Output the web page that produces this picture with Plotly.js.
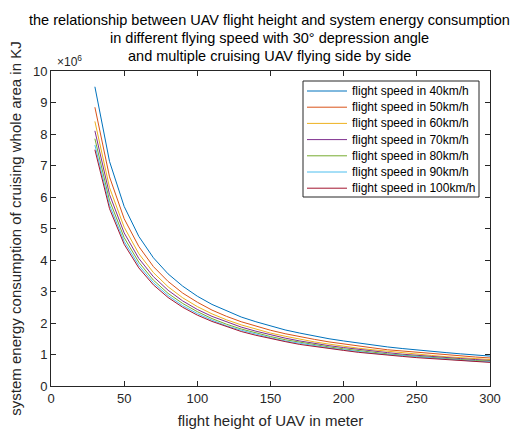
<!DOCTYPE html>
<html>
<head>
<meta charset="utf-8">
<script src="https://cdn.plot.ly/plotly-3.0.1.min.js"></script>
<style>html,body{margin:0;padding:0;background:#fff;}#chart{width:520px;height:433px;}</style>
</head>
<body>
<div id="chart"></div>
<script>
// flight height (m)
var heights = [30,40,50,60,70,80,90,100,110,120,130,140,150,160,170,180,190,200,210,220,230,240,250,260,270,280,290,300];
// energy consumption (x10^6 KJ)
var speed40  = [9.50,7.13,5.70,4.75,4.07,3.56,3.17,2.85,2.59,2.38,2.19,2.04,1.90,1.78,1.68,1.58,1.50,1.43,1.36,1.30,1.24,1.19,1.14,1.10,1.06,1.02,0.98,0.95];
var speed50  = [8.85,6.64,5.31,4.43,3.79,3.32,2.95,2.66,2.41,2.21,2.04,1.90,1.77,1.66,1.56,1.48,1.40,1.33,1.26,1.21,1.15,1.11,1.06,1.02,0.98,0.95,0.92,0.89];
var speed60  = [8.40,6.30,5.04,4.20,3.60,3.15,2.80,2.52,2.29,2.10,1.94,1.80,1.68,1.58,1.48,1.40,1.33,1.26,1.20,1.15,1.10,1.05,1.01,0.97,0.93,0.90,0.87,0.84];
var speed70  = [8.10,6.08,4.86,4.05,3.47,3.04,2.70,2.43,2.21,2.03,1.87,1.74,1.62,1.52,1.43,1.35,1.28,1.22,1.16,1.10,1.06,1.01,0.97,0.93,0.90,0.87,0.84,0.81];
var speed80  = [7.85,5.89,4.71,3.93,3.36,2.94,2.62,2.36,2.14,1.96,1.81,1.68,1.57,1.47,1.39,1.31,1.24,1.18,1.12,1.07,1.02,0.98,0.94,0.91,0.87,0.84,0.81,0.79];
var speed90  = [7.65,5.74,4.59,3.83,3.28,2.87,2.55,2.30,2.09,1.91,1.77,1.64,1.53,1.43,1.35,1.28,1.21,1.15,1.09,1.04,1.00,0.96,0.92,0.88,0.85,0.82,0.79,0.77];
var speed100 = [7.50,5.63,4.50,3.75,3.21,2.81,2.50,2.25,2.05,1.88,1.73,1.61,1.50,1.41,1.32,1.25,1.18,1.13,1.07,1.02,0.98,0.94,0.90,0.87,0.83,0.80,0.78,0.75];
var seriesNames = ['flight speed in 40km/h','flight speed in 50km/h','flight speed in 60km/h','flight speed in 70km/h','flight speed in 80km/h','flight speed in 90km/h','flight speed in 100km/h'];
var titleLines = ['the relationship between UAV flight height and system energy consumption',
                  'in different flying speed with 30° depression angle',
                  'and multiple cruising UAV flying side by side'];
var xTicks = [0,50,100,150,200,250,300];
var yTicks = [0,1,2,3,4,5,6,7,8,9,10];

var seriesValues = [speed40,speed50,speed60,speed70,speed80,speed90,speed100];
var colors = ['#0072BD','#D95319','#EDB120','#7E2F8E','#77AC30','#4DBEEE','#A2142F'];
var FONT = 'Liberation Sans, Arial, Helvetica, sans-serif';

var traces = seriesValues.map(function(v,i){
  return {x: heights, y: v, type:'scatter', mode:'lines', name: seriesNames[i],
          line:{color: colors[i], width: 1}, showlegend:false};
});

// plot-area geometry (pixels) for paper-coordinate helpers
var W = 520, H = 433, ML = 51, MR = 30, MT = 71, MB = 47;
var PW = W - ML - MR, PH = H - MT - MB;
function px(x){ return (x - ML) / PW; }
function py(y){ return (H - MB - y) / PH; }

var shapes = [], annotations = [];
// legend box
shapes.push({type:'rect', xref:'paper', yref:'paper', x0:px(303), x1:px(479), y0:py(81), y1:py(197),
             line:{color:'#262626', width:1}, fillcolor:'#fff', layer:'above'});
seriesNames.forEach(function(n,i){
  var yc = 91 + i*16.2;
  shapes.push({type:'line', xref:'paper', yref:'paper', x0:px(307), x1:px(347), y0:py(yc), y1:py(yc),
               line:{color:colors[i], width:1}, layer:'above'});
  annotations.push({xref:'paper', yref:'paper', x:px(350), y:py(yc), xanchor:'left', yanchor:'middle',
                    text:n, showarrow:false, font:{family:FONT, size:12, color:'#000'}});
});
// title lines
var titleY = [20, 38.5, 56];
titleLines.forEach(function(t,i){
  annotations.push({xref:'paper', yref:'paper', x:px(269), y:py(titleY[i]), xanchor:'center', yanchor:'middle',
                    text:t, showarrow:false, font:{family:FONT, size:14.5, color:'#000'}});
});
// exponent label
annotations.push({xref:'paper', yref:'paper', x:0.01, y:1, xanchor:'left', yanchor:'bottom',
                  text:'×10<sup>6</sup>', showarrow:false, font:{family:FONT, size:12, color:'#262626'}});

var axisCommon = {
  showgrid:false, zeroline:false, showline:true, mirror:'ticks',
  linecolor:'#262626', linewidth:1, ticks:'inside', ticklen:5, tickcolor:'#262626',
  tickfont:{family:FONT, size:13, color:'#262626'}
};

var layout = {
  width:W, height:H,
  margin:{l:ML, r:MR, t:MT, b:MB},
  paper_bgcolor:'#fff', plot_bgcolor:'#fff',
  font:{family:FONT, color:'#262626'},
  xaxis: Object.assign({}, axisCommon, {range:[0,300], tickvals:xTicks,
         title:{text:'flight height of UAV in meter', font:{size:15, color:'#262626'}, standoff:10}}),
  yaxis: Object.assign({}, axisCommon, {range:[0,10], tickvals:yTicks,
         title:{text:'system energy consumption of cruising whole area in KJ', font:{size:15, color:'#262626'}, standoff:7}}),
  showlegend:false,
  shapes:shapes,
  annotations:annotations
};

Plotly.newPlot('chart', traces, layout, {displayModeBar:false, staticPlot:true});
</script>
</body>
</html>
